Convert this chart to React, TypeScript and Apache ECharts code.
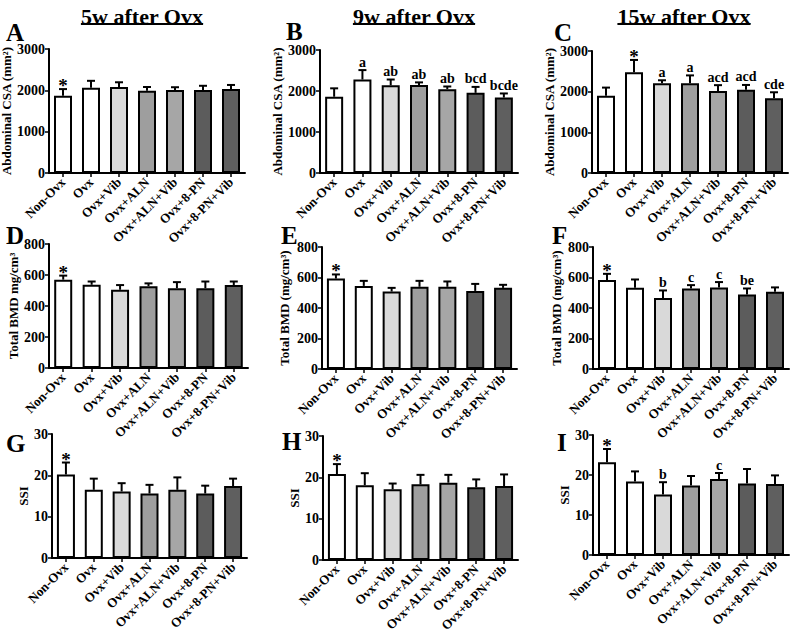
import React, { useEffect, useRef } from "react";
import * as echarts from "echarts";

const categories = ["Non-Ovx", "Ovx", "Ovx+Vib", "Ovx+ALN", "Ovx+ALN+Vib", "Ovx+8-PN", "Ovx+8-PN+Vib"];

const csa5w = [1870, 2060, 2080, 1990, 2010, 2010, 2030];
const csa5wErr = [160, 170, 115, 90, 65, 100, 100];
const csa5wSig = ["*", "", "", "", "", "", ""];

const csa9w = [1860, 2280, 2140, 2145, 2045, 1955, 1840];
const csa9wErr = [205, 230, 140, 65, 65, 145, 100];
const csa9wSig = ["", "a", "ab", "ab", "ab", "bcd", "bcde"];

const csa15w = [1900, 2480, 2205, 2205, 2015, 2050, 1840];
const csa15wErr = [200, 300, 75, 195, 145, 115, 145];
const csa15wSig = ["", "*", "a", "a", "acd", "acd", "cde"];

const bmd5w = [570, 537, 505, 528, 515, 515, 535];
const bmd5wErr = [26, 21, 30, 18, 39, 43, 23];
const bmd5wSig = ["*", "", "", "", "", "", ""];

const bmd9w = [593, 545, 508, 539, 539, 512, 532];
const bmd9wErr = [27, 33, 24, 39, 35, 46, 20];
const bmd9wSig = ["*", "", "", "", "", "", ""];

const bmd15w = [583, 533, 465, 528, 535, 489, 507];
const bmd15wErr = [41, 54, 50, 22, 35, 39, 28];
const bmd15wSig = ["*", "", "b", "c", "c", "be", ""];

const ssi5w = [20.2, 16.5, 16.1, 15.6, 16.5, 15.6, 17.4];
const ssi5wErr = [2.9, 2.7, 2.0, 2.1, 3.0, 1.9, 1.8];
const ssi5wSig = ["*", "", "", "", "", "", ""];

const ssi9w = [20.8, 18.1, 17.1, 18.3, 18.7, 17.6, 17.9];
const ssi9wErr = [2.4, 2.9, 1.4, 2.3, 1.9, 1.9, 2.8];
const ssi9wSig = ["*", "", "", "", "", "", ""];

const ssi15w = [23.2, 18.4, 15.1, 17.4, 19.0, 17.9, 17.75];
const ssi15wErr = [3.3, 2.5, 3.1, 2.35, 1.5, 3.6, 2.15];
const ssi15wSig = ["*", "", "b", "", "c", "", ""];

const columnTitles = ["5w after Ovx", "9w after Ovx", "15w after Ovx"];
const yNames = ["Abdominal CSA (mm²)", "Abdominal CSA (mm²)", "Abdominal CSA (mm²)",
  "Total BMD mg/cm³", "Total BMD (mg/cm³)", "Total BMD (mg/cm³)", "SSI", "SSI", "SSI"];
const panelLetters = ["A", "B", "C", "D", "E", "F", "G", "H", "I"];

const barColors = ["#ffffff", "#ffffff", "#d9d9d9", "#9e9e9e", "#a6a6a6", "#5c5c5c", "#5f5f5f"];

const FONT = '"Liberation Serif", "Times New Roman", serif';

const panelData = [
  { v: csa5w, e: csa5wErr, s: csa5wSig, max: 3000, interval: 1000 },
  { v: csa9w, e: csa9wErr, s: csa9wSig, max: 3000, interval: 1000 },
  { v: csa15w, e: csa15wErr, s: csa15wSig, max: 3000, interval: 1000 },
  { v: bmd5w, e: bmd5wErr, s: bmd5wSig, max: 800, interval: 200 },
  { v: bmd9w, e: bmd9wErr, s: bmd9wSig, max: 800, interval: 200 },
  { v: bmd15w, e: bmd15wErr, s: bmd15wSig, max: 800, interval: 200 },
  { v: ssi5w, e: ssi5wErr, s: ssi5wSig, max: 30, interval: 10 },
  { v: ssi9w, e: ssi9wErr, s: ssi9wSig, max: 30, interval: 10 },
  { v: ssi15w, e: ssi15wErr, s: ssi15wSig, max: 30, interval: 10 },
];

// layout: grid [left, top, width, height], nameGap, letter [x, y]
const layout = [
  { g: [49, 49, 196, 124], gap: 33, L: [6, 32] },
  { g: [320, 50, 198, 123], gap: 30, L: [286, 31] },
  { g: [592, 51, 196, 122], gap: 32, L: [554, 32] },
  { g: [49, 244, 199, 124], gap: 26, L: [6, 235] },
  { g: [322, 247, 195, 122], gap: 31, L: [281, 235] },
  { g: [593, 247, 196, 122], gap: 30, L: [552, 235] },
  { g: [52, 434, 195, 124], gap: 20, L: [6, 443] },
  { g: [323, 436, 195, 124], gap: 21, L: [282, 441] },
  { g: [593, 435, 196, 120], gap: 21, L: [557, 442] },
];
const titleCenters = [142, 414, 684];

function measure(text: string, font: string) {
  const ctx = document.createElement("canvas").getContext("2d");
  if (!ctx) return text.length * 10;
  ctx.font = font;
  return ctx.measureText(text).width;
}

export default function App() {
  const ref = useRef<HTMLDivElement>(null);
  useEffect(() => {
    if (!ref.current) return;
    const chart = echarts.init(ref.current, null, { renderer: "svg" });
    const grids: any[] = [];
    const xAxes: any[] = [];
    const yAxes: any[] = [];
    const series: any[] = [];
    panelData.forEach((p, k) => {
      const l = layout[k];
      grids.push({ left: l.g[0], top: l.g[1], width: l.g[2], height: l.g[3], containLabel: false, outerBoundsMode: "none" });
      xAxes.push({
        type: "category", gridIndex: k, data: categories, position: "bottom",
        axisLine: { show: true, onZero: false, lineStyle: { color: "#000", width: 2 } },
        axisTick: { show: true, alignWithLabel: true, length: 4, lineStyle: { color: "#000", width: 1.5 } },
        axisLabel: { interval: 0, rotate: 45, margin: 7, color: "#000", fontFamily: FONT, fontWeight: "bold", fontSize: 13, hideOverlap: false },
      });
      yAxes.push({
        type: "value", gridIndex: k, min: 0, max: p.max, interval: p.interval,
        name: yNames[k], nameLocation: "middle", nameGap: l.gap,
        nameTextStyle: { color: "#000", fontFamily: FONT, fontWeight: "bold", fontSize: 13 },
        axisLine: { show: true, lineStyle: { color: "#000", width: 2 } },
        axisTick: { show: true, length: 4, lineStyle: { color: "#000", width: 1.5 } },
        axisLabel: { margin: 4, color: "#000", fontFamily: FONT, fontWeight: "bold", fontSize: 14, formatter: (v: number) => String(v) },
        splitLine: { show: false },
      });
      series.push({
        type: "bar", xAxisIndex: k, yAxisIndex: k, barWidth: 18,
        data: p.v.map((val, i) => ({ value: val, itemStyle: { color: barColors[i] } })),
        itemStyle: { borderColor: "#000", borderWidth: 2 },
        z: 2,
      });
      const sig = p.s;
      series.push({
        type: "custom", xAxisIndex: k, yAxisIndex: k, z: 3, clip: false,
        data: p.v.map((val, i) => [i, val, p.e[i]]),
        renderItem: (params: any, api: any) => {
          const i = api.value(0), v = api.value(1), e = api.value(2);
          const base = api.coord([i, v]);
          const top = api.coord([i, v + e]);
          const children: any[] = [
            { type: "line", shape: { x1: base[0], y1: base[1], x2: top[0], y2: top[1] }, style: { stroke: "#000", lineWidth: 2 } },
            { type: "line", shape: { x1: top[0] - 4, y1: top[1], x2: top[0] + 4, y2: top[1] }, style: { stroke: "#000", lineWidth: 2 } },
          ];
          const s = sig[params.dataIndex];
          if (s) {
            const star = s === "*";
            children.push({
              type: "text", x: top[0], y: top[1] + (star ? 6 : -1),
              style: { text: s, fill: "#000", font: `bold ${star ? 19 : 14}px ${FONT}`, align: "center", verticalAlign: "bottom" },
            });
          }
          return { type: "group", children };
        },
      });
    });

    const graphics: any[] = [];
    columnTitles.forEach((t, c) => {
      const font = `bold 22px ${FONT}`;
      const w = measure(t, font);
      graphics.push({ type: "text", x: titleCenters[c], y: 16, style: { text: t, font, fill: "#000", align: "center", verticalAlign: "middle" } });
      graphics.push({ type: "line", shape: { x1: titleCenters[c] - w / 2, y1: 24, x2: titleCenters[c] + w / 2, y2: 24 }, style: { stroke: "#000", lineWidth: 2 } });
    });
    panelLetters.forEach((t, k) => {
      graphics.push({ type: "text", x: layout[k].L[0], y: layout[k].L[1], style: { text: t, font: `bold 25px ${FONT}`, fill: "#000", align: "left", verticalAlign: "middle" } });
    });

    chart.setOption({
      animation: false,
      backgroundColor: "#ffffff",
      grid: grids,
      xAxis: xAxes,
      yAxis: yAxes,
      series,
      graphic: graphics,
    });
    return () => chart.dispose();
  }, []);
  return <div ref={ref} style={{ position: "absolute", left: 0, top: 0, width: 793, height: 635 }} />;
}
